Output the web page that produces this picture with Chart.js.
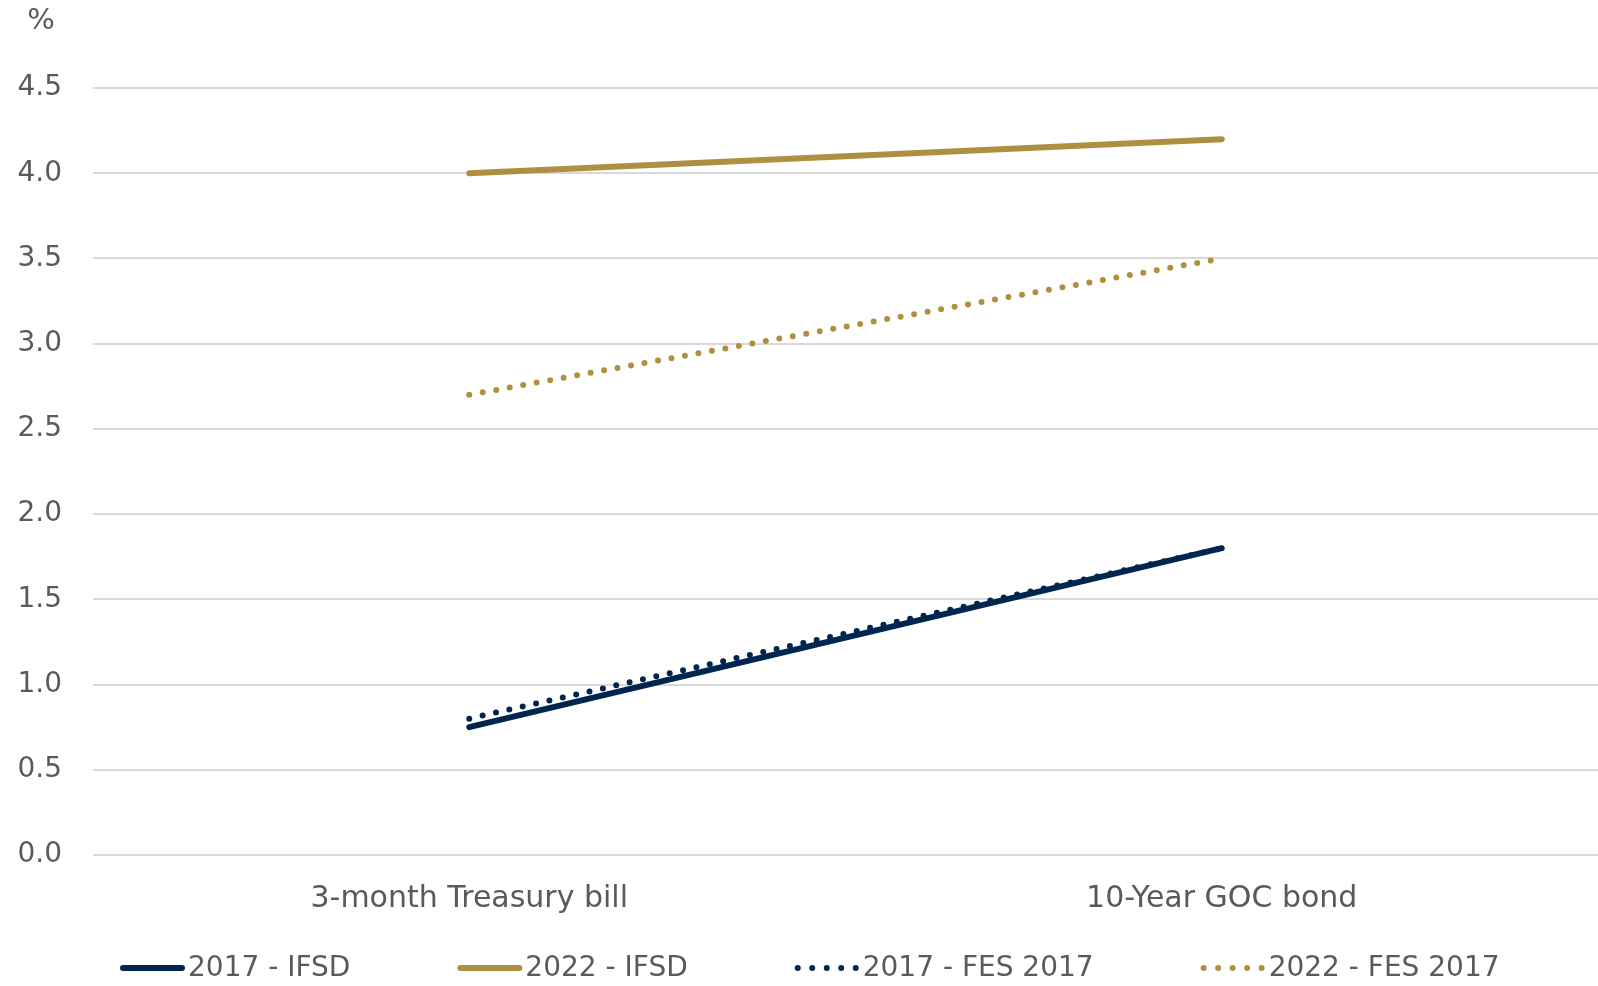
<!DOCTYPE html>
<html>
<head>
<meta charset="utf-8">
<script src="https://cdn.jsdelivr.net/npm/chart.js@4"></script>
<style>
  html, body { margin: 0; padding: 0; background: #fff; }
  #wrap { width: 1598px; height: 986px; position: relative; }
</style>
</head>
<body>
<div id="wrap"><canvas id="rates"></canvas></div>
<script>
// interest rate assumptions, per cent
const categories = ['3-month Treasury bill', '10-Year GOC bond'];
const ifsd2017 = [0.75, 1.8];
const ifsd2022 = [4.0, 4.2];
const fes2017 = [0.8, 1.8];
const fes2022 = [2.7, 3.5];
const yTicks = [0, 0.5, 1, 1.5, 2, 2.5, 3, 3.5, 4, 4.5];

const NAVY = '#00264f';
const GOLD = '#b09040';
const TEXT = '#5a5a5a';
const FONT = '"DejaVu Sans", sans-serif';

// small "%" unit label above the y axis
const unitLabel = {
  id: 'unitLabel',
  afterDraw(chart) {
    const ctx = chart.ctx;
    ctx.save();
    ctx.font = '29px ' + FONT;
    ctx.fillStyle = TEXT;
    ctx.textAlign = 'center';
    ctx.textBaseline = 'middle';
    ctx.fillText('%', 41, 21);
    ctx.restore();
  }
};

// legend row along the bottom: line sample, then label, items spaced evenly
const lineLegend = {
  id: 'lineLegend',
  afterDraw(chart) {
    const ctx = chart.ctx;
    const y = 968;
    let x = 120;
    ctx.save();
    ctx.font = '28px ' + FONT;
    ctx.textBaseline = 'middle';
    ctx.textAlign = 'left';
    chart.data.datasets.forEach(ds => {
      ctx.beginPath();
      ctx.strokeStyle = ds.borderColor;
      ctx.lineWidth = ds.borderWidth;
      ctx.lineCap = 'round';
      ctx.setLineDash(ds.borderDash.length ? [0, 14.5] : []);
      ctx.moveTo(x + 3, y);
      ctx.lineTo(x + 62, y);
      ctx.stroke();
      ctx.setLineDash([]);
      ctx.fillStyle = TEXT;
      ctx.fillText(ds.label, x + 68, y + 1);
      x += 68 + ctx.measureText(ds.label).width + 107;
    });
    ctx.restore();
  }
};

function series(label, data, color, dotted) {
  return {
    label: label,
    data: data,
    borderColor: color,
    backgroundColor: color,
    borderWidth: 6,
    borderCapStyle: 'round',
    borderDash: dotted ? [0, 13.7] : [],
    pointRadius: 0,
    pointHoverRadius: 0,
    tension: 0,
    fill: false
  };
}

new Chart(document.getElementById('rates'), {
  type: 'line',
  data: {
    labels: categories,
    datasets: [
      series('2017 - IFSD', ifsd2017, NAVY, false),
      series('2022 - IFSD', ifsd2022, GOLD, false),
      series('2017 - FES 2017', fes2017, NAVY, true),
      series('2022 - FES 2017', fes2022, GOLD, true)
    ]
  },
  options: {
    responsive: true,
    maintainAspectRatio: false,
    animation: false,
    layout: { padding: { top: 88, right: 0, left: 0, bottom: 51 } },
    plugins: {
      tooltip: { enabled: false },
      legend: { display: false }
    },
    scales: {
      x: {
        offset: true,
        grid: { display: false },
        border: { display: false },
        ticks: { color: TEXT, padding: 18, font: { family: FONT, size: 30 } }
      },
      y: {
        min: 0,
        max: 4.5,
        afterBuildTicks(scale) {
          scale.ticks = yTicks.map(v => ({ value: v }));
        },
        afterFit(scale) { scale.width = 93; },
        grid: { color: '#d9d9d9', lineWidth: 2, drawTicks: false },
        border: { display: false },
        ticks: {
          color: TEXT,
          padding: 31,
          font: { family: FONT, size: 28 },
          callback: v => Number(v).toFixed(1)
        }
      }
    }
  },
  plugins: [unitLabel, lineLegend]
});
</script>
</body>
</html>
